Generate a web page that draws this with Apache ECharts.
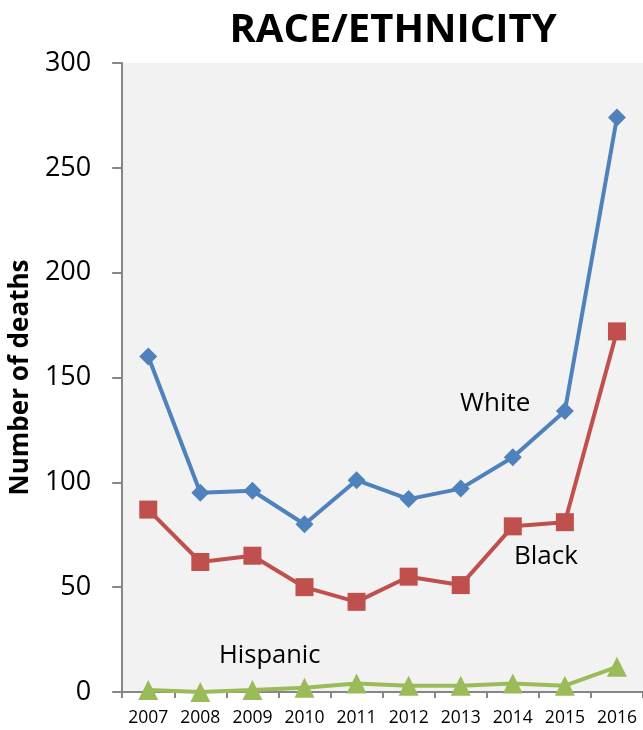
<!DOCTYPE html>
<html><head><meta charset="utf-8">
<script src="https://cdn.jsdelivr.net/npm/echarts@6/dist/echarts.min.js"></script>
<style>html,body{margin:0;padding:0;background:#fff}#c{width:643px;height:730px}</style>
</head><body><div id="c"></div>
<script>
const years = ['2007','2008','2009','2010','2011','2012','2013','2014','2015','2016'];
const white = [160, 95, 96, 80, 101, 92, 97, 112, 134, 274];
const black = [87, 62, 65, 50, 43, 55, 51, 79, 81, 172];
const hispanic = [1, 0, 1, 2, 4, 3, 3, 4, 3, 12];
const yTicks = [0, 50, 100, 150, 200, 250, 300];

const chart = echarts.init(document.getElementById('c'), null, {renderer: 'canvas'});
const font = '"Open Sans", "Noto Sans", sans-serif';
chart.setOption({
  animation: false,
  backgroundColor: '#ffffff',
  title: {
    text: 'RACE/ETHNICITY', left: 388, top: 6, textAlign: 'center',
    textStyle: {fontFamily: font, fontSize: 40, fontWeight: 'bold', color: '#000'}
  },
  grid: {left: 122, right: 0, top: 63, bottom: 38, show: true, backgroundColor: '#f2f2f2', borderWidth: 0},
  xAxis: {
    type: 'category', data: years, boundaryGap: true,
    axisLine: {lineStyle: {color: '#868686', width: 2}},
    axisTick: {show: true, length: 6, alignWithLabel: false, lineStyle: {color: '#868686', width: 2}},
    axisLabel: {fontFamily: font, fontSize: 17.5, color: '#000', margin: 17}
  },
  yAxis: {
    type: 'value', min: 0, max: 300, interval: 50,
    name: 'Number of deaths', nameLocation: 'middle', nameGap: 88,
    nameTextStyle: {fontFamily: font, fontSize: 26, fontWeight: 'bold', color: '#000'},
    axisLine: {show: true, lineStyle: {color: '#868686', width: 2}},
    axisTick: {show: true, length: 10, inside: false, lineStyle: {color: '#868686', width: 2}},
    axisLabel: {fontFamily: font, fontSize: 27, color: '#000', margin: 31,
      formatter: v => yTicks.includes(v) ? String(v) : ''},
    splitLine: {show: false}
  },
  series: [
    {name: 'White', type: 'line', data: white, symbol: 'diamond', symbolSize: 18,
     lineStyle: {color: '#4f81bd', width: 4}, itemStyle: {color: '#4f81bd'}},
    {name: 'Black', type: 'line', data: black, symbol: 'rect', symbolSize: 18,
     lineStyle: {color: '#c0504d', width: 4}, itemStyle: {color: '#c0504d'}},
    {name: 'Hispanic', type: 'line', data: hispanic, symbol: 'triangle', symbolSize: 20,
     lineStyle: {color: '#9bbb59', width: 4}, itemStyle: {color: '#9bbb59'}}
  ],
  graphic: [
    {type: 'text', left: 460, top: 391, style: {text: 'White', fontFamily: font, fontSize: 26, fill: '#000'}},
    {type: 'text', left: 514, top: 544, style: {text: 'Black', fontFamily: font, fontSize: 26, fill: '#000'}},
    {type: 'text', left: 219, top: 643, style: {text: 'Hispanic', fontFamily: font, fontSize: 25.5, fill: '#000'}}
  ]
});
</script></body></html>
